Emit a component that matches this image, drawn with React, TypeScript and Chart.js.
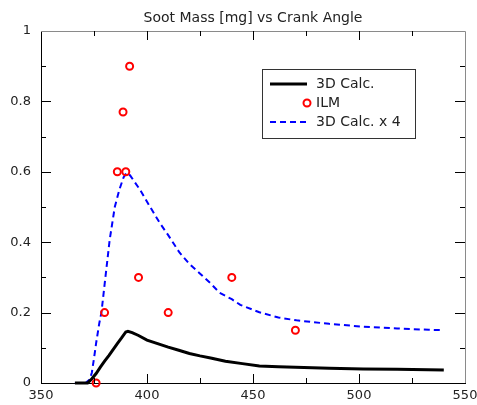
import { useEffect, useRef } from 'react';
import { Chart, registerables } from 'chart.js';

Chart.register(...registerables);

const titleText = 'Soot Mass [mg] vs Crank Angle';

const angle3D = [366, 372, 374, 376, 378, 380, 382, 384, 386, 388, 390, 391, 393, 396, 400, 405, 410, 415, 420, 425, 430, 437, 445, 453, 462, 470, 486, 502, 518, 540];
const soot3D = [0, 0, 0.012, 0.027, 0.045, 0.062, 0.078, 0.095, 0.112, 0.128, 0.145, 0.147, 0.143, 0.135, 0.122, 0.112, 0.102, 0.093, 0.084, 0.077, 0.071, 0.062, 0.055, 0.048, 0.046, 0.045, 0.042, 0.04, 0.039, 0.037];

const angle3Dx4 = [366, 371, 373, 374, 375, 376, 377.5, 378.5, 380, 382.4, 384.8, 387, 389, 390.3, 392, 396.6, 401, 406, 410, 415.4, 420, 424.8, 430, 434.3, 440, 444, 453, 462, 470.5, 486, 502, 518, 533, 540];
const soot3Dx4 = [0, 0, 0.01, 0.03, 0.07, 0.113, 0.17, 0.2, 0.28, 0.407, 0.5, 0.55, 0.585, 0.597, 0.59, 0.55, 0.505, 0.455, 0.42, 0.37, 0.338, 0.312, 0.283, 0.256, 0.238, 0.222, 0.201, 0.186, 0.178, 0.168, 0.16, 0.155, 0.151, 0.15];

const ilmAngle = [376, 380, 386, 388.7, 390, 391.8, 396, 410, 440, 470];
const ilmSoot = [0, 0.2, 0.6, 0.77, 0.6, 0.9, 0.3, 0.2, 0.3, 0.15];

const xMajorTicks = [400, 450, 500];
const xMinorTicks = [375, 425, 475, 525];
const yMajorTicks = [0.2, 0.4, 0.6, 0.8];
const yMinorTicks = [0.1, 0.3, 0.5, 0.7, 0.9];

const legendLabels = ['3D Calc.', 'ILM', '3D Calc. x 4'];

const FONT = 'DejaVu Sans';

function toPoints(xs: number[], ys: number[]) {
  return xs.map((x, i) => ({ x, y: ys[i] }));
}

const framePlugin = {
  id: 'frame',
  afterDraw(chart: any) {
    const { ctx, chartArea } = chart;
    const xs = chart.scales.x;
    const ys = chart.scales.y;
    const { left, right, top, bottom } = chartArea;
    ctx.save();
    // top and right border
    ctx.strokeStyle = '#8a8a8a';
    ctx.lineWidth = 1;
    ctx.beginPath();
    ctx.moveTo(left, top + 0.5);
    ctx.lineTo(right + 0.5, top + 0.5);
    ctx.lineTo(right + 0.5, bottom);
    ctx.stroke();
    // ticks
    ctx.strokeStyle = '#000';
    ctx.beginPath();
    const xt = (vals: number[], len: number) => {
      vals.forEach((v) => {
        const px = Math.round(xs.getPixelForValue(v)) + 0.5;
        ctx.moveTo(px, bottom);
        ctx.lineTo(px, bottom - len);
        ctx.moveTo(px, top);
        ctx.lineTo(px, top + len);
      });
    };
    const yt = (vals: number[], len: number) => {
      vals.forEach((v) => {
        const py = Math.round(ys.getPixelForValue(v)) + 0.5;
        ctx.moveTo(left, py);
        ctx.lineTo(left + len, py);
        ctx.moveTo(right, py);
        ctx.lineTo(right - len, py);
      });
    };
    xt(xMajorTicks, 9);
    xt(xMinorTicks, 5);
    yt(yMajorTicks, 10);
    yt(yMinorTicks, 5);
    ctx.stroke();

    // title
    ctx.fillStyle = '#222';
    ctx.font = `14px "${FONT}"`;
    ctx.textAlign = 'center';
    ctx.textBaseline = 'middle';
    ctx.fillText(titleText, (left + right) / 2, 18);

    // legend
    const bx = 262, by = 69, bw = 153, bh = 69;
    ctx.fillStyle = '#fff';
    ctx.fillRect(bx, by, bw, bh);
    ctx.strokeStyle = '#333';
    ctx.strokeRect(bx + 0.5, by + 0.5, bw, bh);
    const rows = [84, 103, 122];
    const lx0 = 270, lx1 = 307, tx = 316;
    ctx.strokeStyle = '#000';
    ctx.lineWidth = 3;
    ctx.beginPath();
    ctx.moveTo(lx0, rows[0]);
    ctx.lineTo(lx1, rows[0]);
    ctx.stroke();
    ctx.strokeStyle = '#ff0000';
    ctx.lineWidth = 2;
    ctx.beginPath();
    ctx.arc(lx1, rows[1], 3.5, 0, Math.PI * 2);
    ctx.stroke();
    ctx.strokeStyle = '#0000ff';
    ctx.lineWidth = 2;
    ctx.setLineDash([6, 4]);
    ctx.beginPath();
    ctx.moveTo(lx0, rows[2]);
    ctx.lineTo(lx1, rows[2]);
    ctx.stroke();
    ctx.setLineDash([]);
    ctx.fillStyle = '#222';
    ctx.font = `14px "${FONT}"`;
    ctx.textAlign = 'left';
    ctx.textBaseline = 'middle';
    legendLabels.forEach((t, i) => ctx.fillText(t, tx, rows[i]));
    ctx.restore();
  },
};

export default function App() {
  const ref = useRef<HTMLCanvasElement | null>(null);
  useEffect(() => {
    document.body.style.margin = '0';
    const canvas = ref.current;
    if (!canvas) return;
    const chart = new Chart(canvas, {
      type: 'scatter',
      data: {
        datasets: [
          {
            label: 'ILM',
            data: toPoints(ilmAngle, ilmSoot),
            showLine: false,
            pointRadius: 3.5,
            pointBorderWidth: 2,
            pointBorderColor: '#ff0000',
            pointBackgroundColor: 'rgba(255,255,255,0)',
            order: 0,
            clip: false as any,
          },
          {
            label: '3D Calc.',
            data: toPoints(angle3D, soot3D),
            showLine: true,
            borderColor: '#000',
            borderWidth: 3,
            pointRadius: 0,
            tension: 0,
            order: 1,
            clip: false as any,
          },
          {
            label: '3D Calc. x 4',
            data: toPoints(angle3Dx4, soot3Dx4),
            showLine: true,
            borderColor: '#0000ff',
            borderWidth: 2,
            borderDash: [6, 4],
            pointRadius: 0,
            tension: 0,
            order: 2,
            clip: false as any,
          },
        ],
      },
      options: {
        animation: false,
        responsive: false,
        devicePixelRatio: 1,
        layout: { padding: { top: 31, right: 12, left: 0, bottom: 0 } },
        plugins: {
          legend: { display: false },
          title: { display: false },
          tooltip: { enabled: false },
        },
        scales: {
          x: {
            type: 'linear',
            min: 350,
            max: 550,
            ticks: {
              stepSize: 50,
              color: '#222',
              font: { family: FONT, size: 13 },
              padding: 5,
              maxRotation: 0,
              autoSkip: false,
            },
            grid: { display: false, drawTicks: false },
            border: { display: true, color: '#000', width: 1 },
            afterFit: (s: any) => {
              s.height = 22;
              s.paddingLeft = 0;
              s.paddingRight = 0;
            },
          },
          y: {
            type: 'linear',
            min: 0,
            max: 1,
            ticks: {
              stepSize: 0.2,
              color: '#222',
              font: { family: FONT, size: 13 },
              padding: 10,
              callback: (v: any) => String(Number(Number(v).toFixed(1))),
            },
            grid: { display: false, drawTicks: false },
            border: { display: true, color: '#000', width: 1 },
            afterFit: (s: any) => {
              s.width = 41;
            },
          },
        },
      },
      plugins: [framePlugin],
    });
    return () => chart.destroy();
  }, []);
  return (
    <canvas
      ref={ref}
      width={477}
      height={405}
      style={{ display: 'block', width: 477, height: 405 }}
    />
  );
}
